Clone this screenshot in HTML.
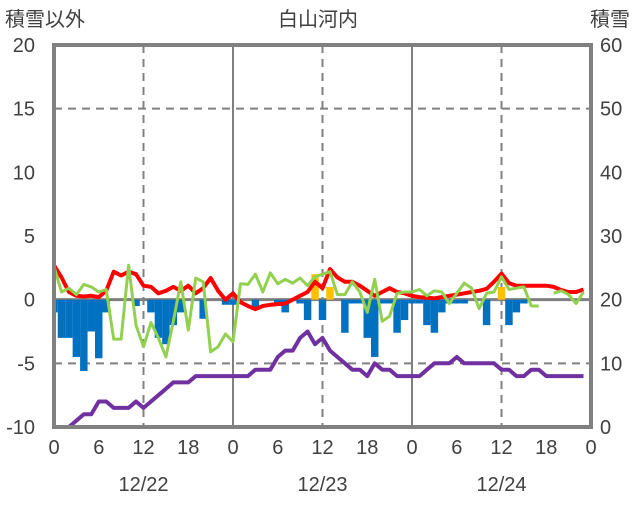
<!DOCTYPE html>
<html><head><meta charset="utf-8"><style>
body{margin:0;background:#fff;}
svg text{font-family:"Liberation Sans","Noto Sans CJK JP",sans-serif;fill:#404040;font-size:20px;}
</style></head><body>
<svg id="chart" width="636" height="501" viewBox="0 0 636 501" xmlns="http://www.w3.org/2000/svg">
<text x="5" y="26">積雪以外</text>
<text x="318" y="26" text-anchor="middle">白山河内</text>
<text x="630" y="26" text-anchor="end">積雪</text>
<g id="grid"></g>
<g id="bars"></g>
<g id="lines"></g>
<g id="axes"></g>
</svg>
<script>
const leftTicks=[20,15,10,5,0,-5,-10];
const rightTicks=[60,50,40,30,20,10,0];
const hourTicks=[0,6,12,18,0,6,12,18,0,6,12,18,0];
const dateLabels=["12/22","12/23","12/24"];
const diffBars=[-1,-3,-3,-4.5,-5.6,-2.5,-4.6,-1,0,0,0,-0.5,0,-1,-3,-3.5,-2,-1,0,0,-1.5,0,0,-0.4,-0.4,0,0,-0.6,0,0,-0.3,-1,0,-0.3,-1.6,2,-1.6,1,0,-2.6,-0.3,-0.3,-3,-4.5,-0.3,-0.3,-2.6,-1.6,-0.3,-0.3,-2,-2.6,-1,-0.3,-0.3,-0.3,0,0,-2,0,1,-2,-1,-0.3,0,0,0,0,0,0,0,0];
const redSeries=[2.7,1.75,0.6,0.3,0.25,0.3,0.2,0.7,2.2,1.9,2.2,2,1.1,1,0.5,0.7,1,0.7,1.1,0.5,0.9,1.7,0.7,0,0.5,-0.2,-0.5,-0.75,-0.5,-0.4,-0.35,-0.3,0,0.3,0.6,1.4,0.9,2.4,1.75,1.4,1.4,1.1,0.7,0.3,0.6,0.9,0.6,0.5,0.3,0.2,0.15,0.1,0.2,0.3,0.4,0.5,0.6,0.7,0.85,1.4,2.05,1.3,1.1,1.1,1.1,1.1,1.1,1,0.75,0.6,0.6,0.8];
const greenSeries=[2.6,0.6,0.9,0.4,1.2,1,0.6,0.8,-3.1,-3.1,2.7,-2,-3.7,-1.8,-3,-4.5,-1.7,1.4,-2.4,1.7,1.4,-4.1,-3.7,-2.7,-3.3,1.25,1.2,2,0.6,2.1,1.25,1.6,1.3,1.7,1.1,1.8,2,2.2,0.4,0.4,1.4,0.6,-1,1.6,-1.7,-1.3,0.5,0.6,0.6,0.8,0.3,0.7,0.6,-0.3,0.5,1.3,0.9,-0.7,0.5,0.6,1.8,0.8,0.9,1,-0.5,-0.5,null,0.5,0.7,0.4,-0.3,0.6];
const snowDepth=[0,0,0,1,2,2,4,4,3,3,3,4,3,4,5,6,7,7,7,8,8,8,8,8,8,8,8,9,9,9,11,12,12,14,15,13,14,12,11,10,9,9,8,10,9,9,8,8,8,8,9,10,10,10,11,10,10,10,10,10,9,9,8,8,9,9,8,8,8,8,8,8];

const L=54,R=591,T=45,B=427,hrs=72;
const xS=h=>L+(R-L)*h/hrs;
const yL=v=>T+(20-v)*(B-T)/30;
const yR=v=>T+(60-v)*(B-T)/60;
const NS="http://www.w3.org/2000/svg";
function mk(tag,parent,attrs){const e=document.createElementNS(NS,tag);for(const k in attrs)e.setAttribute(k,attrs[k]);parent.appendChild(e);return e;}
const grid=document.getElementById('grid'),bars=document.getElementById('bars'),lines=document.getElementById('lines'),axes=document.getElementById('axes'),svg=document.getElementById('chart');
[15,-5].forEach(v=>{const e=mk('line',grid,{x1:L,x2:R,y1:yL(v),y2:yL(v),stroke:'#808080','stroke-width':2,'stroke-dasharray':'8,6'});

});
[12,36,60].forEach(h=>{const e=mk('line',grid,{x1:xS(h),x2:xS(h),y1:T,y2:B,stroke:'#808080','stroke-width':2,'stroke-dasharray':'8,6'});

});
[24,48].forEach(h=>{const e=mk('line',grid,{x1:xS(h),x2:xS(h),y1:T,y2:B,stroke:'#808080','stroke-width':2});

});
const bw=(R-L)/hrs;
diffBars.forEach((v,h)=>{if(!v)return;let x0=Math.max(L,xS(h)-bw/2),x1=Math.min(R,xS(h)+bw/2);
const r=mk('rect',bars,{x:x0,y:Math.min(yL(0),yL(v)),width:x1-x0,height:Math.abs(yL(v)-yL(0)),fill:v>0?'#ffc000':'#0070c0'});

});
const z=mk('line',grid,{x1:L,x2:R,y1:yL(0),y2:yL(0),stroke:'#808080','stroke-width':3});


function path(arr,ys,color,name,w){let d='',pen=false;arr.forEach((v,h)=>{if(v===null){pen=false;return;}d+=(pen?'L':'M')+xS(h).toFixed(1)+','+ys(v).toFixed(1);pen=true;});
const p=mk('path',lines,{d:d,fill:'none',stroke:color,'stroke-width':w,'stroke-linejoin':'round'});

}
path(redSeries,yL,'#ff0000','red-line',4);
path(greenSeries,yL,'#92d050','green-line',3);
path(snowDepth,yR,'#7030a0','snow-depth-line',4);
const f=mk('rect',axes,{x:L,y:T,width:R-L,height:B-T,fill:'none',stroke:'#808080','stroke-width':4});


leftTicks.forEach(v=>{const t=mk('text',axes,{x:35,y:yL(v)+7,'text-anchor':'end'});t.textContent=v;

});
rightTicks.forEach(v=>{const t=mk('text',axes,{x:600,y:yR(v)+7});t.textContent=v;

});
hourTicks.forEach((v,i)=>{const t=mk('text',axes,{x:xS(i*6),y:454,'text-anchor':'middle'});t.textContent=v;

});
dateLabels.forEach((v,i)=>{const t=mk('text',axes,{x:xS(12+24*i),y:491,'text-anchor':'middle'});t.textContent=v;

});
</script>
</body></html>
